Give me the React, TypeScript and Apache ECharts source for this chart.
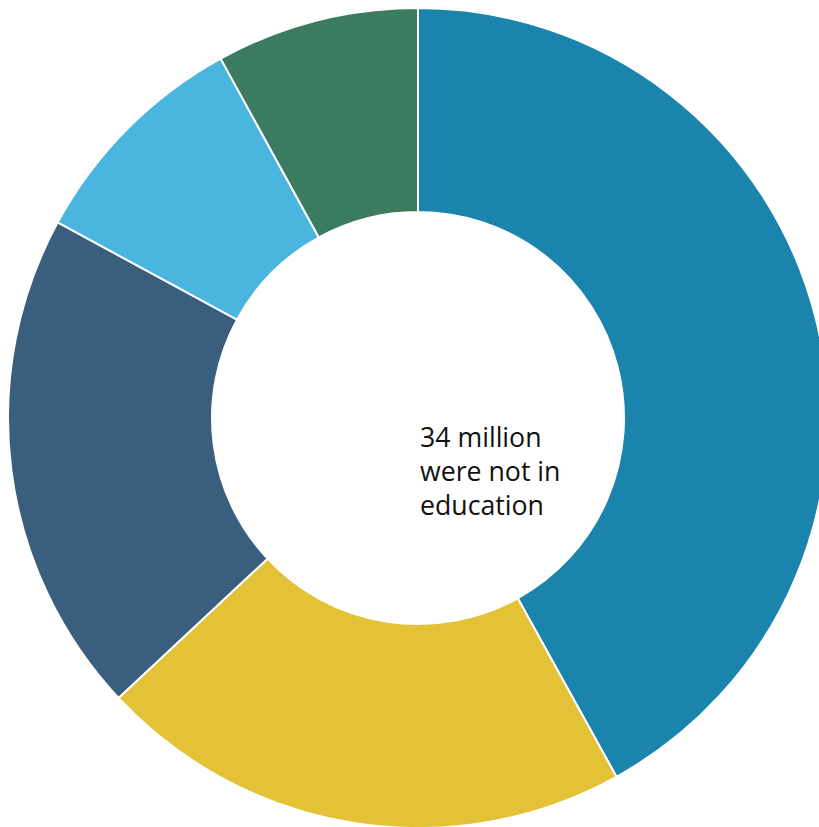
import React, { useEffect, useRef } from "react";
import * as echarts from "echarts";

const categories = ["A", "B", "C", "D", "E"];
const values = [42, 21.1, 19.9, 9.1, 8.0];
const colors = ["#1a84ad", "#e3c237", "#3a5e7e", "#4ab5de", "#3b7b5f"];
const centerLines = ["34 million", "were not in", "education"];

export default function App() {
  const ref = useRef<HTMLDivElement>(null);
  useEffect(() => {
    const chart = echarts.init(ref.current!, null, { renderer: "svg" });
    chart.setOption({
      animation: false,
      series: [
        {
          type: "pie",
          center: [418, 418],
          radius: [206, 410],
          startAngle: 90,
          clockwise: true,
          label: { show: false },
          labelLine: { show: false },
          itemStyle: { borderColor: "#ffffff", borderWidth: 2 },
          emphasis: { disabled: true },
          data: categories.map((c, i) => ({ name: c, value: values[i], itemStyle: { color: colors[i] } })),
        },
      ],
      graphic: [
        {
          type: "text",
          left: 420,
          top: 419,
          style: {
            text: centerLines.join("\n"),
            font: "26.7px 'Open Sans'",
            lineHeight: 34,
            fill: "#111111",
          },
        },
      ],
    });
    return () => chart.dispose();
  }, []);
  return <div ref={ref} style={{ position: "absolute", left: 0, top: 0, width: 819, height: 827 }} />;
}
